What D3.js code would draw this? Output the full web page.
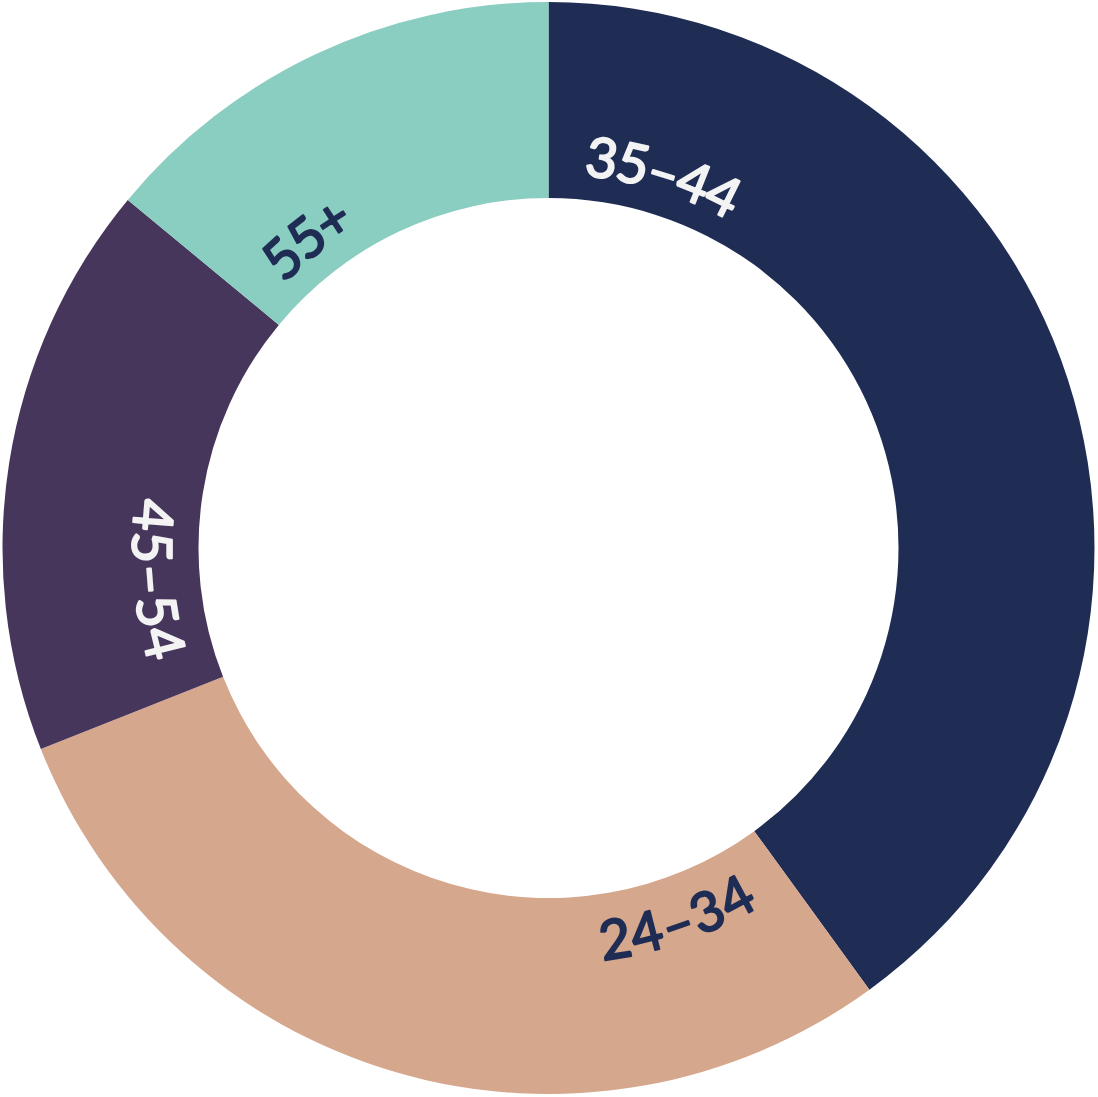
<!DOCTYPE html>
<html>
<head>
<meta charset="utf-8">
<script src="https://cdn.jsdelivr.net/npm/d3@7"></script>
<style>
  body { margin: 0; background: #fff; }
  svg { display: block; }
</style>
</head>
<body>
<script>
// Age groups, clockwise from 12 o'clock
const ageGroups = ["35–44", "24–34", "45–54", "55+"];
const shares = [40, 29, 17, 14];
const sliceColors = ["#1f2d55", "#d5a78d", "#47365b", "#8acdc1"];
const labelColors = ["#f3f3f3", "#1f2d55", "#f3f3f3", "#1f2d55"];

const width = 1098;
const height = 1097;
const cx = 548.5, cy = 548;
const outerR = 546;
const innerR = 350;
const labelR = 395;
const labelGap = 38; // px along the arc from the slice start

const data = ageGroups.map((g, i) => ({ group: g, value: shares[i] }));

const svg = d3.select("body")
  .append("svg")
  .attr("width", width)
  .attr("height", height);

const g = svg.append("g").attr("transform", `translate(${cx},${cy})`);

const pie = d3.pie().sort(null).value(d => d.value);
const arc = d3.arc().innerRadius(innerR).outerRadius(outerR);
const color = d3.scaleOrdinal().domain(ageGroups).range(sliceColors);
const textColor = d3.scaleOrdinal().domain(ageGroups).range(labelColors);

const arcs = pie(data);

g.selectAll("path.slice")
  .data(arcs)
  .join("path")
  .attr("class", "slice")
  .attr("d", arc)
  .attr("fill", d => color(d.data.group));

// point on a circle, angle 0 at 12 o'clock
const pt = (r, a) => [r * Math.sin(a), -r * Math.cos(a)];

// rough angle of the label middle, to decide if text is flipped
function labelMid(d) {
  return d.startAngle + 0.2;
}
function flipped(d) {
  const m = labelMid(d);
  return m > Math.PI / 2 && m < Math.PI * 1.5;
}

const defs = svg.append("defs");
defs.selectAll("path")
  .data(arcs)
  .join("path")
  .attr("id", (d, i) => "lp" + i)
  .attr("d", d => {
    const s = pt(labelR, d.startAngle);
    const e = pt(labelR, d.endAngle);
    const large = d.endAngle - d.startAngle > Math.PI ? 1 : 0;
    if (flipped(d)) {
      return `M${e[0] + cx},${e[1] + cy} A${labelR},${labelR} 0 ${large} 0 ${s[0] + cx},${s[1] + cy}`;
    }
    return `M${s[0] + cx},${s[1] + cy} A${labelR},${labelR} 0 ${large} 1 ${e[0] + cx},${e[1] + cy}`;
  });

svg.selectAll("text.label")
  .data(arcs)
  .join("text")
  .attr("class", "label")
  .style("font-family", "Lato, 'Open Sans', sans-serif")
  .style("font-size", "55px")
  .attr("fill", d => textColor(d.data.group))
  .attr("stroke", d => textColor(d.data.group))
  .attr("stroke-width", 2)
  .attr("stroke-linejoin", "round")
  .attr("stroke-linecap", "round")
  .attr("dominant-baseline", "central")
  .append("textPath")
  .attr("href", (d, i) => "#lp" + i)
  .attr("text-anchor", d => flipped(d) ? "end" : "start")
  .attr("startOffset", d => {
    const len = labelR * (d.endAngle - d.startAngle);
    return flipped(d) ? len - labelGap : labelGap;
  })
  .text(d => d.data.group);
</script>
</body>
</html>
